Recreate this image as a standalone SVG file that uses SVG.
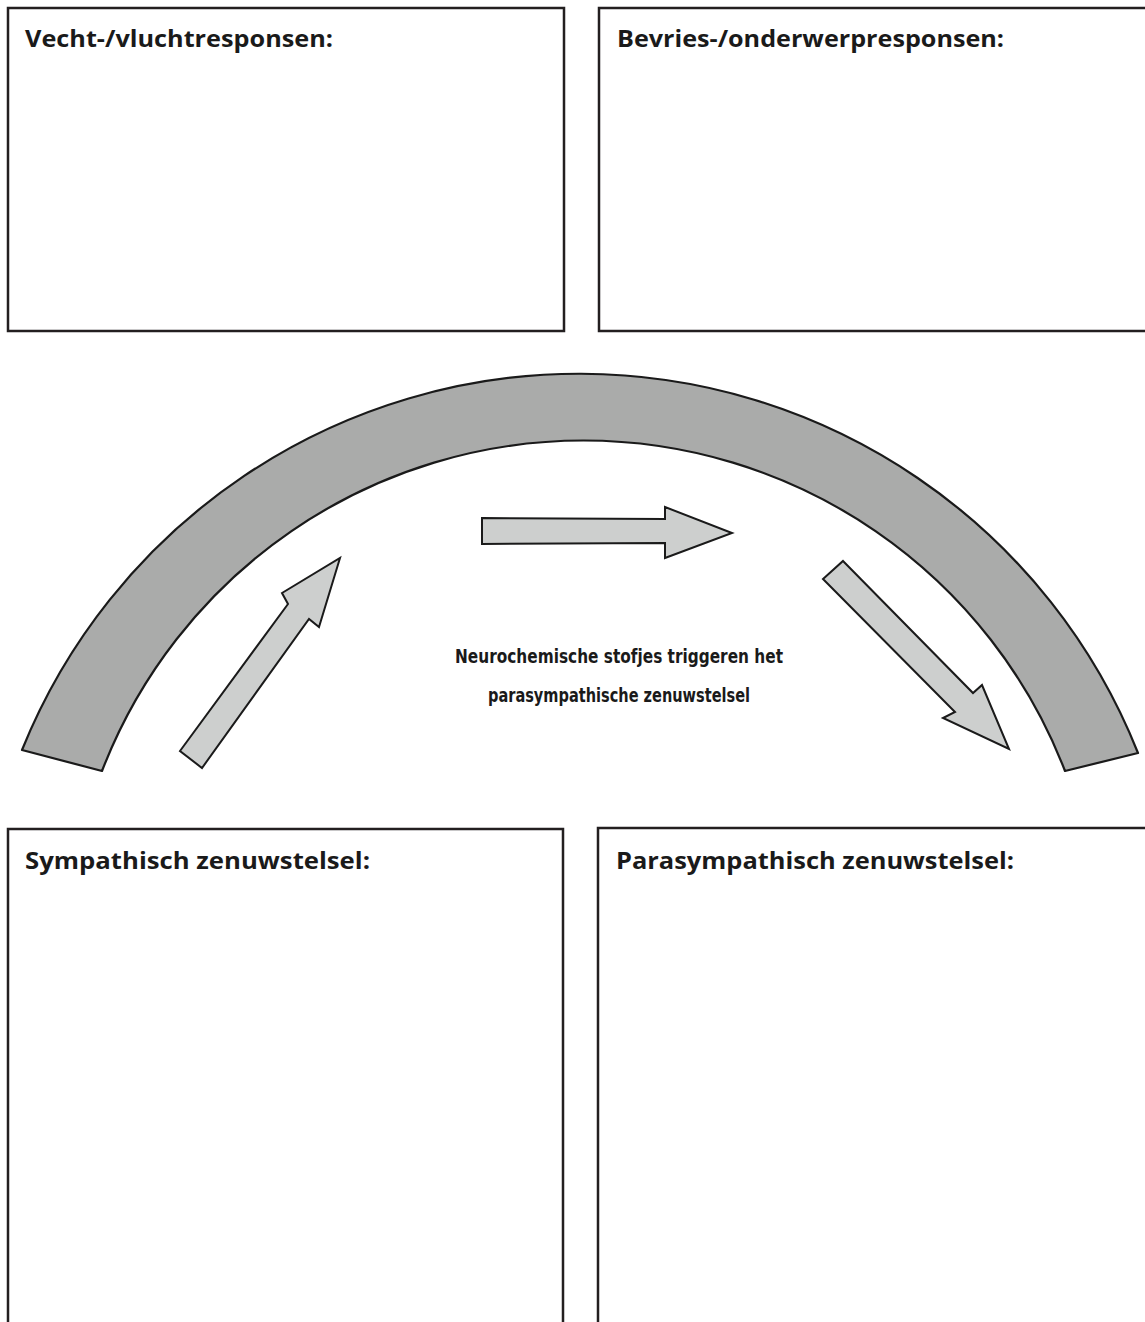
<svg xmlns="http://www.w3.org/2000/svg" width="1145" height="1322" viewBox="0 0 1145 1322">
<style>
.box{fill:#ffffff;stroke:#231f20;stroke-width:2.5}
.title{font-family:"Open Sans","Liberation Sans",sans-serif;font-weight:700;font-size:24px;fill:#1a1a1a}
.band{fill:#aaabaa;stroke:#1a1a1a;stroke-width:2.2;stroke-linejoin:round}
.arrow{fill:#cdcfce;stroke:#1a1a1a;stroke-width:2;stroke-linejoin:miter}
.note{font-family:"DejaVu Sans","Liberation Sans",sans-serif;font-weight:700;font-size:20px;fill:#1a1a1a}
</style>
<rect width="1145" height="1322" fill="#ffffff"/>
<g id="node-vecht">
<path class="box" d="M8,8 H564 V331 H8 Z"/>
<text class="title" x="25" y="47" textLength="308" lengthAdjust="spacingAndGlyphs">Vecht-/vluchtresponsen:</text>
</g>
<g id="node-bevries">
<path class="box" d="M1148,8 H599 V331 H1148"/>
<text class="title" x="617" y="47" textLength="387" lengthAdjust="spacingAndGlyphs">Bevries-/onderwerpresponsen:</text>
</g>
<g id="node-sympathisch">
<path class="box" d="M8,1326 V829 H563 V1326"/>
<text class="title" x="25" y="869" textLength="345" lengthAdjust="spacingAndGlyphs">Sympathisch zenuwstelsel:</text>
</g>
<g id="node-parasympathisch">
<path class="box" d="M598,1326 V828 H1148"/>
<text class="title" x="616" y="869" textLength="398" lengthAdjust="spacingAndGlyphs">Parasympathisch zenuwstelsel:</text>
</g>
<g id="node-band">
<path class="band" d="M22,750 A601,601 0 0 1 1138,753 L1065,771 A516,516 0 0 0 102,771 Z"/>
</g>
<g id="connectors">
<polygon class="arrow" points="180,751 288,604 282,593 340,558 319,627 309,619 202,768"/>
<polygon class="arrow" points="482,518 665,519 665,507 732,533 665,558 665,543 482,544"/>
<polygon class="arrow" points="843,561 973,693 982,685 1009,749 943,718 955,712 823,579"/>
</g>
<g id="node-label">
<text class="note" x="455" y="663" textLength="328" lengthAdjust="spacingAndGlyphs">Neurochemische stofjes triggeren het</text>
<text class="note" x="488" y="702" textLength="262" lengthAdjust="spacingAndGlyphs">parasympathische zenuwstelsel</text>
</g>
</svg>
